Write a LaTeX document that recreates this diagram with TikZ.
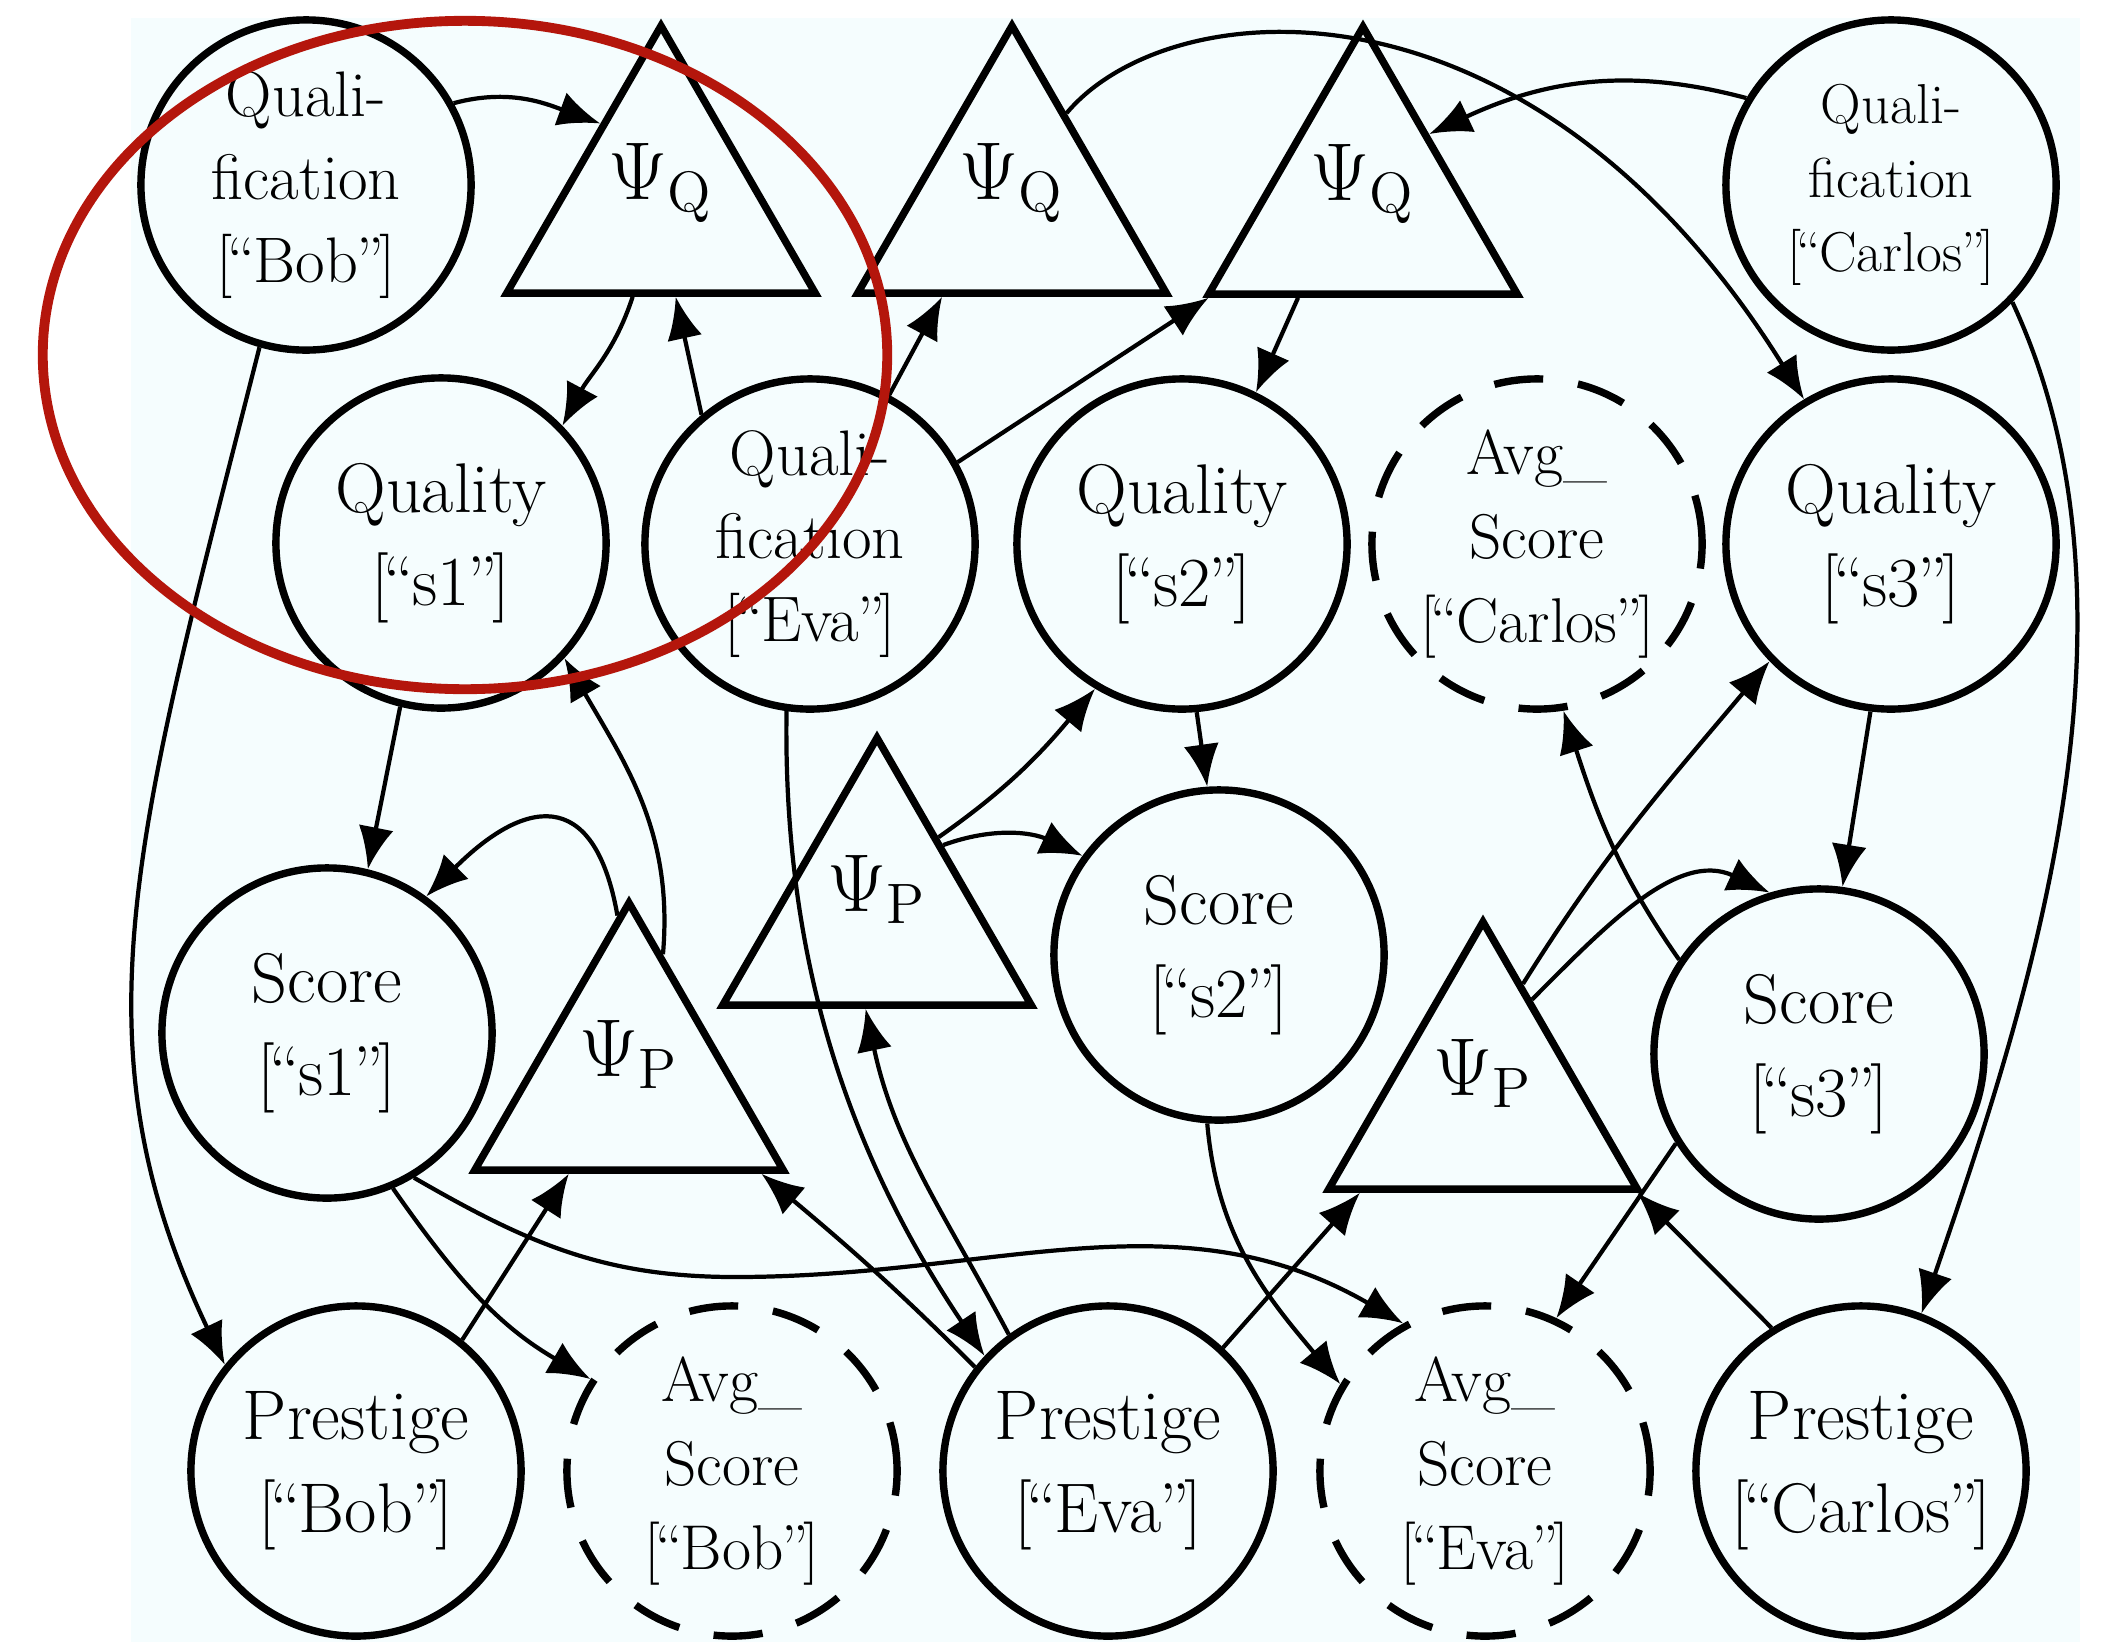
\documentclass[tikz,border=0pt]{standalone}
\usetikzlibrary{shapes.geometric,arrows.meta}
\definecolor{bgazure}{RGB}{245,253,254}
\definecolor{markred}{RGB}{180,22,12}
% bracketed, quoted index with tight quotes
\newcommand\idx[1]{[\kern-0.08em``\kern-0.03em#1\kern-0.03em''\kern-0.08em]}
\begin{document}
\begin{tikzpicture}[x=0.01cm,y=-0.01cm,
  var/.style={circle, draw, line width=2.1pt, minimum size=3.3cm, inner sep=0pt,
    align=center, font=\fontsize{20}{26.5}\selectfont},
  qual/.style={var, font=\fontsize{18.3}{23.5}\selectfont},
  qualsmall/.style={var, font=\fontsize{16}{21}\selectfont},
  avg/.style={var, dash pattern=on 14pt off 10pt, font=\fontsize{18}{23.8}\selectfont},
  factor/.style={regular polygon, regular polygon sides=3, draw, line width=2.1pt,
    minimum size=3.56cm, inner sep=0pt},
  flabel/.style={anchor=base, inner sep=0pt, font=\fontsize{18}{22}\selectfont},
  edge/.style={-{Latex[length=12pt,width=10pt]}, line width=1.2pt}
]
\useasboundingbox (0,0) rectangle (2106,1642);
\fill[bgazure] (131,18) rectangle (2080,1642);

% variables
\node[qual] (qb) at (306,185) {Quali-\\fication\\\idx{Bob}};
\node[qualsmall] (qc) at (1891,185) {Quali-\\fication\\\idx{Carlos}};
\node[var] (ql1) at (441,543) {Quality\\\idx{s1}};
\node[qual] (qe) at (810,544) {Quali-\\fication\\\idx{Eva}};
\node[var] (ql2) at (1182,544) {Quality\\\idx{s2}};
\node[avg] (ac) at (1537,544) {Avg\_\\Score\\\idx{Carlos}};
\node[var] (ql3) at (1891,544) {Quality\\\idx{s3}};
\node[var] (s1) at (327,1033) {Score\\\idx{s1}};
\node[var] (sc2) at (1219,955) {Score\\\idx{s2}};
\node[var] (sc3) at (1819,1054) {Score\\\idx{s3}};
\node[var] (pb) at (356,1471) {Prestige\\\idx{Bob}};
\node[avg] (ab) at (732,1471) {Avg\_\\Score\\\idx{Bob}};
\node[var] (pe) at (1108,1471) {Prestige\\\idx{Eva}};
\node[avg] (ae) at (1485,1471) {Avg\_\\Score\\\idx{Eva}};
\node[var] (pc) at (1861,1471) {Prestige\\\idx{Carlos}};

% factors
\node[factor] (q1) at (661,204) {};
\node[factor] (q2) at (1012,204) {};
\node[factor] (q3) at (1363,205) {};
\node[factor] (p1) at (629,1081) {};
\node[factor] (p2) at (877,916) {};
\node[factor] (p3) at (1483,1100) {};
\node[flabel] (q1t) at ([yshift=0.05cm]q1.center) {\scalebox{1.35}{$\Psi_{\mathrm{Q}}$}};
\node[flabel] (q2t) at ([yshift=0.05cm]q2.center) {\scalebox{1.35}{$\Psi_{\mathrm{Q}}$}};
\node[flabel] (q3t) at ([yshift=0.05cm]q3.center) {\scalebox{1.35}{$\Psi_{\mathrm{Q}}$}};
\node[flabel] (p1t) at ([yshift=0.05cm]p1.center) {\scalebox{1.35}{$\Psi_{\mathrm{P}}$}};
\node[flabel] (p2t) at ([yshift=0.05cm]p2.center) {\scalebox{1.35}{$\Psi_{\mathrm{P}}$}};
\node[flabel] (p3t) at ([yshift=0.05cm]p3.center) {\scalebox{1.35}{$\Psi_{\mathrm{P}}$}};

% quality factors
\draw[edge] (qb.29) to[out=15,in=160] (q1.127);
\draw[edge] (q1.-107) to[out=-108,in=62] (ql1.44);
\draw[edge] (qe.130) -- (q1.-81);
\draw[edge] (qe.62) -- (q2.-127);
\draw[edge] (qe.29) -- (q3.-149);
\draw[edge] (q3.-125) -- (ql2.64);
\draw[edge] (qc.149) to[out=165,in=25] (q3.47);
\draw[edge] (q2.59) .. controls (1170,-10) and (1530,-40) .. (ql3.121);

% qualification to prestige
\draw[edge] (qb.-106) .. controls (136,834) and (71,1042) .. (pb.141);
\draw[edge] (qe.-98) .. controls (783,950) and (843,1145) .. (pe.137);
\draw[edge] (qc.-44) .. controls (2161,620) and (2020,1025) .. (pc.69);

% quality to score
\draw[edge] (ql1.-104) -- (s1.76);
\draw[edge] (ql2.-85) -- (sc2.94);
\draw[edge] (ql3.-97) -- (sc3.82);

% prestige factors
\draw[edge] (p1.94) to[out=100,in=45,looseness=1.8] (s1.54);
\draw[edge] (p1.75) to[out=85,in=-60] (ql1.-43);
\draw[edge] (pb.51) -- (p1.-123);
\draw[edge] (pe.142) to[out=135,in=-40] (p1.-35);
\draw[edge] (pe.126) to[out=118,in=-78] (p2.-97);
\draw[edge] (p2.52) to[out=35,in=-130] (ql2.-121);
\draw[edge] (p2.47) to[out=20,in=155] (sc2.144);
\draw[edge] (pe.47) -- (p3.-143);
\draw[edge] (pc.122) -- (p3.-31);
\draw[edge] (p3.71) to[out=58,in=-130] (ql3.-136);
\draw[edge] (p3.64) to[out=45,in=155] (sc3.107);

% scores to averages
\coordinate (dip) at (735,1277);
\draw[edge] (s1.-67) to[out=-55,in=150] (ab.147);
\draw[edge] (s1.-59) to[out=-30,in=180] (dip) to[out=0,in=150] (ae.119);
\draw[edge] (sc2.-94) to[out=-85,in=130] (ae.149);
\draw[edge] (sc3.-148) -- (ae.65);
\draw[edge] (sc3.146) to[out=125,in=-72] (ac.-81);

% red marker ring
\draw[markred, line width=2.8pt] (465,355) ellipse [x radius=4.22cm, y radius=3.34cm];
\end{tikzpicture}
\end{document}
